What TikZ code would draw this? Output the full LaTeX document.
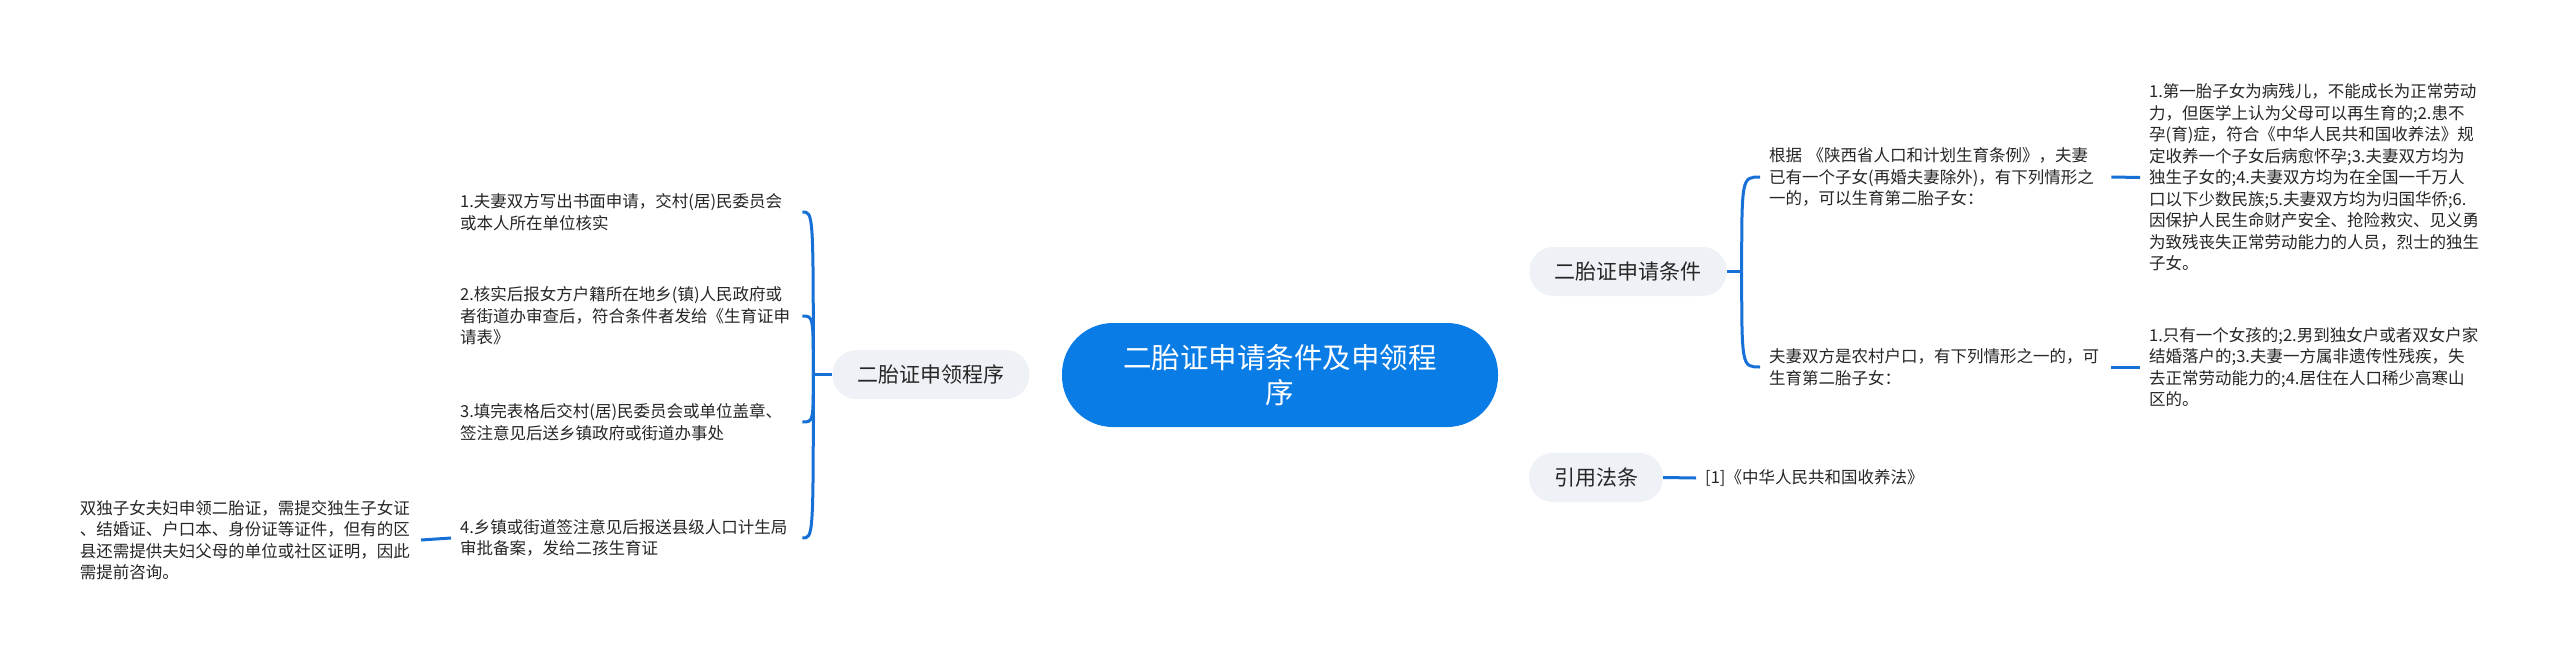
\documentclass[tikz,border=0pt]{standalone}
\usepackage{fontspec}
\newfontfamily\cjk{Noto Sans CJK SC}
\usetikzlibrary{backgrounds,calc}
\definecolor{mainblue}{RGB}{10,124,230}
\definecolor{linkblue}{RGB}{22,112,214}
\definecolor{subfill}{RGB}{238,241,246}
\definecolor{txt}{RGB}{38,38,38}
\tikzset{
  mainnode/.style={fill=mainblue, text=white, rounded corners=51pt, minimum width=436pt, minimum height=104pt, align=center, inner sep=0pt, font=\cjk\fontsize{28.5}{35}\selectfont},
  subnode/.style={fill=subfill, text=txt, rounded corners=24pt, minimum height=49pt, inner xsep=25pt, inner ysep=0pt, font=\cjk\fontsize{21}{25}\selectfont},
  leaf/.style={text=txt, align=left, text width=333pt, inner xsep=9pt, inner ysep=0pt, font=\cjk\fontsize{16.5}{21.5}\selectfont},
  plainleaf/.style={text=txt, inner xsep=9pt, inner ysep=0pt, font=\cjk\fontsize{16.5}{21.5}\selectfont},
  link/.style={draw=linkblue, line width=3pt},
}
\begin{document}
\begin{tikzpicture}[x=1pt,y=-1pt]
\fill[white] (0,0) rectangle (2560,661);
\useasboundingbox (0,0) rectangle (2560,661);

% central
\node[mainnode] (main) at (1280,375) {二胎证申请条件及申领程\\序};

% level 1
\node[subnode] (proc) at (931,374.5) {二胎证申领程序};
\node[subnode] (cond) at (1628,271.5) {二胎证申请条件};
\node[subnode] (law) at (1596,477.5) {引用法条};

% left leaves
\node[leaf, anchor=west] (p1) at (451,212) {1.夫妻双方写出书面申请，交村(居)民委员会\\或本人所在单位核实};
\node[leaf, anchor=west] (p2) at (451,316) {2.核实后报女方户籍所在地乡(镇)人民政府或\\者街道办审查后，符合条件者发给《生育证申\\请表》};
\node[leaf, anchor=west] (p3) at (451,422) {3.填完表格后交村(居)民委员会或单位盖章、\\签注意见后送乡镇政府或街道办事处};
\node[leaf, anchor=west] (p4) at (451,538) {4.乡镇或街道签注意见后报送县级人口计生局\\审批备案，发给二孩生育证};
\node[leaf, anchor=east, text width=332pt] (p4a) at (421,540) {双独子女夫妇申领二胎证，需提交独生子女证\\、结婚证、户口本、身份证等证件，但有的区\\县还需提供夫妇父母的单位或社区证明，因此\\需提前咨询。};

% right leaves
\node[leaf, anchor=west] (ca) at (1760,177) {根据 《陕西省人口和计划生育条例》，夫妻\\已有一个子女(再婚夫妻除外)，有下列情形之\\一的，可以生育第二胎子女：};
\node[leaf, anchor=west] (cb) at (1760,367) {夫妻双方是农村户口，有下列情形之一的，可\\生育第二胎子女：};
\node[leaf, anchor=west, text width=345pt] (ca1) at (2140,177.5) {1.第一胎子女为病残儿，不能成长为正常劳动\\力，但医学上认为父母可以再生育的;2.患不\\孕(育)症，符合《中华人民共和国收养法》规\\定收养一个子女后病愈怀孕;3.夫妻双方均为\\独生子女的;4.夫妻双方均为在全国一千万人\\口以下少数民族;5.夫妻双方均为归国华侨;6.\\因保护人民生命财产安全、抢险救灾、见义勇\\为致残丧失正常劳动能力的人员，烈士的独生\\子女。};
\node[leaf, anchor=west, text width=345pt] (cb1) at (2140,367) {1.只有一个女孩的;2.男到独女户或者双女户家\\结婚落户的;3.夫妻一方属非遗传性残疾，失\\去正常劳动能力的;4.居住在人口稀少高寒山\\区的。};
\node[plainleaf, anchor=west] (law1) at (1696,478) {[1]《中华人民共和国收养法》};

\coordinate (JL) at ($(proc.west)+(-19,0)$);
\coordinate (JR) at ($(cond.east)+(15,0)$);

\begin{scope}[on background layer]
  \draw[link] (main.center) .. controls (1305,290) and (1400,271.5) .. (cond.west);
  \draw[link] (main.center) .. controls (1305,462) and (1400,477.5) .. (law.west);
  \draw[link] (main.west) -- (proc.east);
\end{scope}

\draw[link] (proc.west) -- (JL);
\foreach \n in {p1,p2,p3,p4}{
  \draw[link] (JL) .. controls (JL |- \n.east) .. (\n.east);
}
\draw[link] (p4.west) -- (p4a.east);

\draw[link] (cond.east) -- (JR);
\foreach \n in {ca,cb}{
  \draw[link] (JR) .. controls (JR |- \n.west) .. (\n.west);
}
\draw[link] (ca.east) -- (ca1.west);
\draw[link] (cb.east) -- (cb1.west);
\draw[link] (law.east) -- (law1.west);
\end{tikzpicture}
\end{document}
